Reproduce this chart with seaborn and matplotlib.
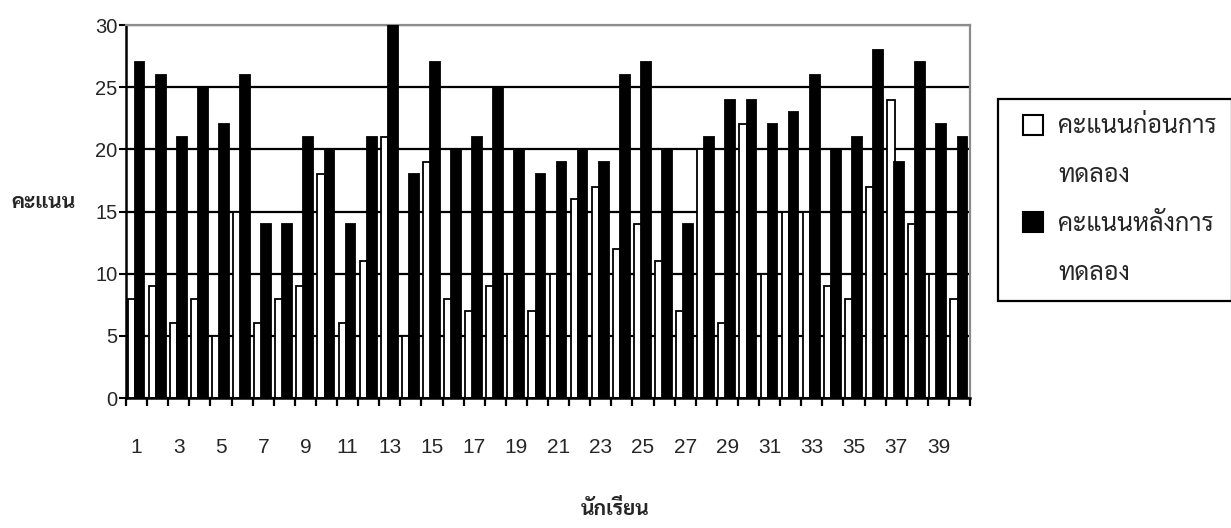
import matplotlib
matplotlib.use("Agg")
import pandas as pd
import matplotlib.pyplot as plt
import seaborn as sns
from matplotlib import font_manager
from matplotlib.lines import Line2D

# Scores of 40 students before and after the experiment
students = list(range(1, 41))
before = [8, 9, 6, 8, 5, 15, 6, 8, 9, 18, 6, 11, 21, 5, 19, 8, 7, 9, 10, 7,
          10, 16, 17, 12, 14, 11, 7, 20, 6, 22, 10, 15, 15, 9, 8, 17, 24, 14, 10, 8]
after = [27, 26, 21, 25, 22, 26, 14, 14, 21, 20, 14, 21, 30, 18, 27, 20, 21, 25, 20, 18,
         19, 20, 19, 26, 27, 20, 14, 21, 24, 24, 22, 23, 26, 20, 21, 28, 19, 27, 22, 21]
series_names = ["คะแนนก่อนการ\nทดลอง", "คะแนนหลังการ\nทดลอง"]
y_ticks = [0, 5, 10, 15, 20, 25, 30]

# pick a Thai capable family
installed = {f.name for f in font_manager.fontManager.ttflist}
thai_font = "DejaVu Sans"
for name in ["Sarabun", "Noto Sans Thai Looped", "Noto Sans Thai", "Athiti", "Bai Jamjuree"]:
    if name in installed:
        thai_font = name
        break
thai_family = [thai_font, "DejaVu Sans"]

sns.set_style("white")
plt.rcParams["font.family"] = ["Liberation Sans", thai_font, "DejaVu Sans"]

df = pd.DataFrame({
    "student": students * 2,
    "score": before + after,
    "series": [series_names[0]] * len(before) + [series_names[1]] * len(after),
})

fig = plt.figure(figsize=(12.31, 5.28), dpi=100)
ax = fig.add_axes([0.1024, 0.2462, 0.6856, 0.7064])

sns.barplot(data=df, x="student", y="score", hue="series", hue_order=series_names,
            palette=["white", "black"], edgecolor="black", linewidth=1.3,
            width=0.8, legend=False, ax=ax)

# narrow white bar behind, wider black bar overlapping it (excel look)
n = len(students)
for i, p in enumerate(ax.patches[:2 * n]):
    c = i % n
    if i < n:
        p.set_x(c - 0.43)
        p.set_width(0.36)
        p.set_zorder(2)
    else:
        p.set_x(c - 0.09)
        p.set_width(0.46)
        p.set_zorder(3)

ax.set_xlim(-0.5, n - 0.5)
ax.set_ylim(0, 30)
ax.set_yticks(y_ticks)
ax.yaxis.grid(True, color="black", linewidth=1.6)
ax.set_axisbelow(True)

# category boundaries as ticks, labels on odd students
ax.set_xticks([k - 0.5 for k in range(n + 1)], minor=True)
ax.set_xticks(range(0, n, 2))
ax.set_xticklabels([str(s) for s in students[::2]], fontsize=15)
ax.tick_params(axis="x", which="major", bottom=True, length=0, pad=29)
ax.tick_params(axis="x", which="minor", bottom=True, length=6, width=1.6,
               color="black", direction="out")
ax.tick_params(axis="y", left=True, length=5, width=1.5, color="black",
               direction="out", labelsize=14.5, pad=1)

for side in ["top", "right"]:
    ax.spines[side].set_color("#8c8c8c")
    ax.spines[side].set_linewidth(1.6)
for side in ["left", "bottom"]:
    ax.spines[side].set_color("black")
    ax.spines[side].set_linewidth(1.8)

ax.set_xlabel("นักเรียน", fontsize=15, fontweight="bold", family=thai_family)
ax.xaxis.set_label_coords(0.579, -0.272)
ax.set_ylabel("คะแนน", fontsize=15, fontweight="bold", rotation=0, family=thai_family)
ax.yaxis.set_label_coords(-0.098, 0.495)

# legend: one entry per text line, the square marker only on the first line
handles, labels = [], []
for name, color in zip(series_names, ["white", "black"]):
    first, second = name.split("\n")
    handles.append(Line2D([], [], linestyle="none", marker="s", markersize=14,
                          markerfacecolor=color, markeredgecolor="black",
                          markeredgewidth=1.5))
    labels.append(first)
    handles.append(Line2D([], [], linestyle="none"))
    labels.append(second)
leg = fig.legend(handles, labels, loc="upper left", bbox_to_anchor=(0.8107, 0.812),
                 frameon=True, fancybox=False, edgecolor="black", framealpha=1,
                 prop={"family": thai_family, "size": 18},
                 handlelength=1.6, handletextpad=0.2,
                 labelspacing=0.95, borderpad=0.6, borderaxespad=0)
leg.get_frame().set_linewidth(1.6)

fig.savefig("out.png", dpi=100)
